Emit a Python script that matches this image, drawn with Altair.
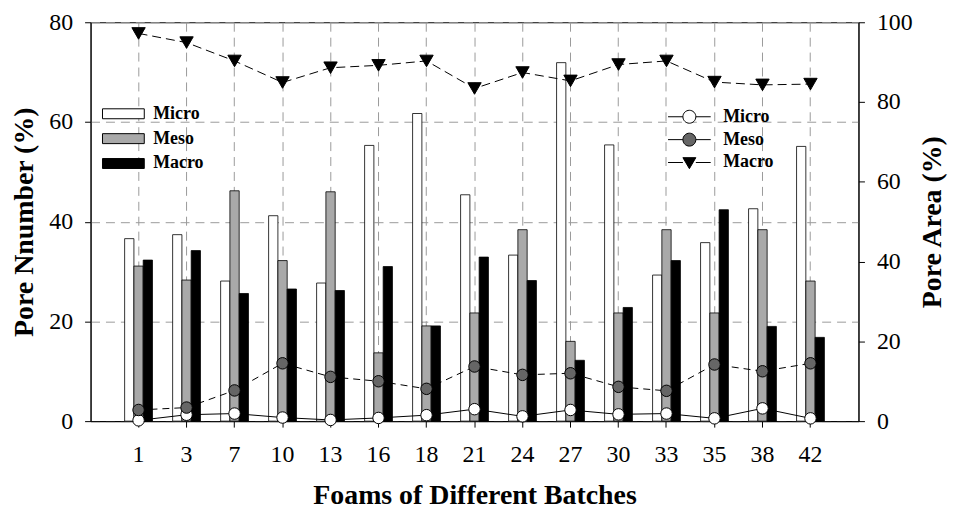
import altair as alt
import pandas as pd

batches = ["1", "3", "7", "10", "13", "16", "18", "21", "24", "27", "30", "33", "35", "38", "42"]
series = ["Micro", "Meso", "Macro"]

# Pore number (%) - bars, left axis
num_micro = [36.6, 37.4, 28.1, 41.2, 27.7, 55.3, 61.7, 45.4, 33.3, 71.9, 55.4, 29.3, 35.8, 42.6, 55.1]
num_meso = [31.1, 28.3, 46.2, 32.2, 46.0, 13.7, 19.1, 21.7, 38.4, 16.0, 21.7, 38.4, 21.7, 38.4, 28.1]
num_macro = [32.3, 34.2, 25.6, 26.5, 26.2, 31.0, 19.1, 32.9, 28.2, 12.2, 22.8, 32.2, 42.4, 19.0, 16.8]

# Pore area (%) - lines, right axis
area_micro = [0.2, 1.6, 1.9, 0.9, 0.3, 0.8, 1.5, 3.0, 1.2, 2.8, 1.7, 1.9, 0.7, 3.2, 0.7]
area_meso = [2.8, 3.4, 7.7, 14.5, 11.1, 10.0, 8.1, 13.7, 11.6, 12.0, 8.6, 7.6, 14.2, 12.5, 14.5]
area_macro = [97.2, 94.9, 90.3, 84.9, 88.6, 89.2, 90.3, 83.4, 87.4, 85.3, 89.4, 90.3, 85.0, 84.3, 84.5]

bars_df = pd.DataFrame({
    "batch": batches * 3,
    "series": [s for s in series for _ in batches],
    "value": num_micro + num_meso + num_macro,
})
area_df = pd.DataFrame({
    "batch": batches * 3,
    "kind": [s + " " for s in series for _ in batches],
    "area": area_micro + area_meso + area_macro,
})
kinds = [s + " " for s in series]

FONT = "Liberation Serif"
GRID = "#9a9a9a"

x_axis = alt.Axis(
    title="Foams of Different Batches", labelAngle=0, bandPosition=0.5,
    grid=True, gridColor=GRID, gridDash=[9, 6], gridWidth=1,
    tickSize=6, tickColor="black", domainColor="black",
    labelFont=FONT, labelFontSize=24, labelPadding=16, labelColor="black",
    titleFont=FONT, titleFontSize=28, titleFontWeight="bold", titleColor="black",
    titleBaseline="alphabetic", titlePadding=37,
)
x_enc = alt.X("batch:N", sort=batches,
              scale=alt.Scale(paddingInner=0.42, paddingOuter=0.71), axis=x_axis)

left_axis = alt.Axis(
    title="Pore Nnumber (%)", values=[0, 20, 40, 60, 80], orient="left",
    grid=True, gridColor=GRID, gridDash=[9, 6], gridWidth=1,
    tickSize=6, tickColor="black", domainColor="black",
    labelFont=FONT, labelFontSize=24, labelPadding=12, labelColor="black",
    titleFont=FONT, titleFontSize=28, titleFontWeight="bold", titleColor="black",
    titleAngle=270, titleBaseline="alphabetic", titlePadding=16,
)
right_axis = alt.Axis(
    title="Pore Area (%)", values=[0, 20, 40, 60, 80, 100], orient="right",
    grid=False, tickSize=6, tickColor="black", domainColor="black",
    labelFont=FONT, labelFontSize=24, labelPadding=12, labelColor="black",
    titleFont=FONT, titleFontSize=28, titleFontWeight="bold", titleColor="black",
    titleAngle=270, titleBaseline="alphabetic", titlePadding=28,
)

bar_legend = alt.Legend(
    title=None, orient="none", legendX=11, legendY=83, padding=0,
    symbolType="M-4.2,-1H4.2V1H-4.2Z", symbolSize=100,
    symbolStrokeColor="black", symbolStrokeWidth=1, symbolOffset=13,
    labelFont=FONT, labelFontSize=18, labelFontWeight="bold", labelColor="black",
    labelOffset=21, rowPadding=7,
)

bars = alt.Chart(bars_df).mark_bar(stroke="black", strokeWidth=0.8).encode(
    x=x_enc,
    xOffset=alt.XOffset("series:N", sort=series, scale=alt.Scale(domain=series)),
    y=alt.Y("value:Q", scale=alt.Scale(domain=[0, 80], nice=False), axis=left_axis),
    fill=alt.Fill("series:N", sort=series,
                  scale=alt.Scale(domain=series, range=["white", "#a9a9a9", "black"]),
                  legend=bar_legend),
)

y_r = alt.Y("area:Q", scale=alt.Scale(domain=[0, 100], nice=False), axis=right_axis)

base = alt.Chart(area_df)
line_micro = base.transform_filter("datum.kind == 'Micro '").mark_line(
    color="black", strokeWidth=1).encode(x=x_enc, y=y_r)
line_meso = base.transform_filter("datum.kind == 'Meso '").mark_line(
    color="black", strokeWidth=1, strokeDash=[7, 5]).encode(x=x_enc, y=y_r)
line_macro = base.transform_filter("datum.kind == 'Macro '").mark_line(
    color="black", strokeWidth=1, strokeDash=[9, 5]).encode(x=x_enc, y=y_r)

pts_micro = base.transform_filter("datum.kind == 'Micro '").mark_point(
    filled=True, shape="circle", size=133, fill="white", stroke="black",
    strokeWidth=1, opacity=1).encode(x=x_enc, y=y_r)
pts_meso = base.transform_filter("datum.kind == 'Meso '").mark_point(
    filled=True, shape="circle", size=133, fill="#666666", stroke="black",
    strokeWidth=1, opacity=1).encode(x=x_enc, y=y_r)
pts_macro = base.transform_filter("datum.kind == 'Macro '").mark_point(
    filled=True, shape="triangle-down", size=180, fill="black", stroke="black",
    strokeWidth=1, opacity=1).encode(x=x_enc, y=y_r)

path_circle = "M-3.3,0H-1M1,0H3.3M-1,0A1,1,0,1,1,1,0A1,1,0,1,1,-1,0Z"
path_tri = "M-3.3,0H-1M1,0H3.3M-1,-0.75L1,-0.75L0,0.95Z"

line_legend = alt.Legend(
    title=None, orient="none", legendX=579, legendY=86, padding=0,
    symbolSize=169, symbolStrokeColor="black", symbolStrokeWidth=1, symbolOffset=14,
    labelFont=FONT, labelFontSize=18, labelFontWeight="bold", labelColor="black",
    labelOffset=25, rowPadding=5, labelExpr="trim(datum.label)",
)

legend_layer = base.transform_filter("false").mark_point(
    filled=True, stroke="black", strokeWidth=1, opacity=1).encode(
    x=x_enc, y=y_r,
    color=alt.Color("kind:N", sort=kinds,
                    scale=alt.Scale(domain=kinds, range=["white", "#666666", "black"]),
                    legend=line_legend),
    shape=alt.Shape("kind:N", sort=kinds,
                    scale=alt.Scale(domain=kinds, range=[path_circle, path_circle, path_tri]),
                    legend=line_legend),
)

lines = alt.layer(line_micro, line_meso, line_macro, pts_micro, pts_meso, pts_macro, legend_layer)

chart = alt.layer(bars, lines).resolve_scale(y="independent").properties(
    width=772, height=401,
    autosize=alt.AutoSizeParams(type="none"),
    padding={"left": 83, "top": 13, "right": 90, "bottom": 88},
).configure(font=FONT).configure_view(stroke="black", strokeWidth=1)

chart.save("out.html", embed_options={"renderer": "svg", "actions": False})
